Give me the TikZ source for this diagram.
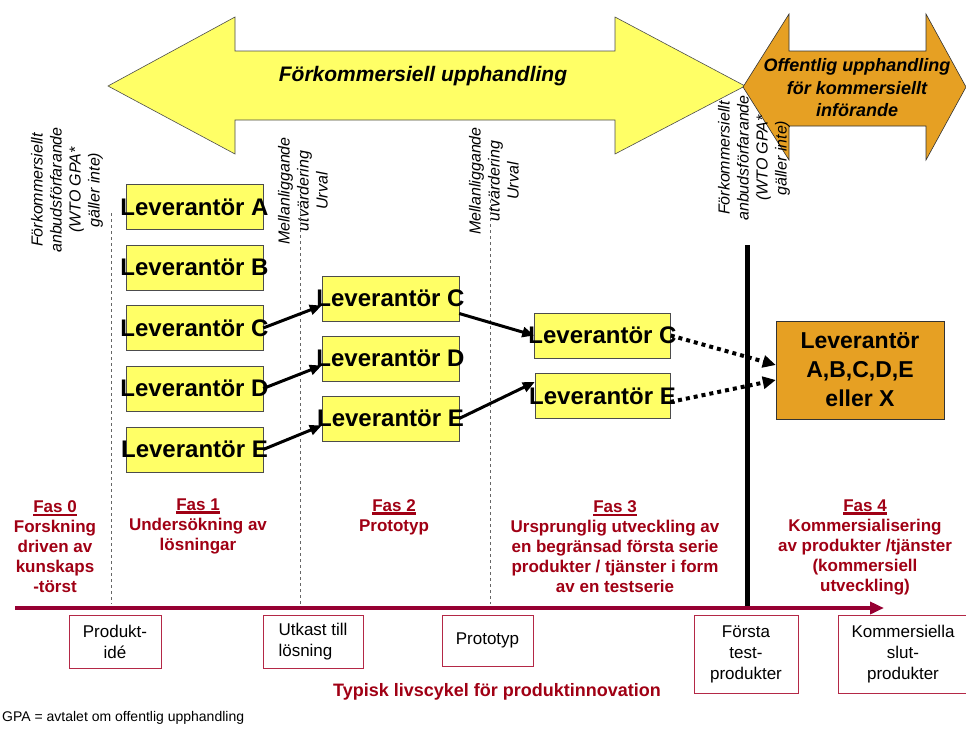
\documentclass[tikz,border=0pt]{standalone}
\usepackage{fontspec}
\setmainfont{Liberation Sans}
\usetikzlibrary{arrows.meta,positioning,calc}

\definecolor{levyellow}{RGB}{255,255,102}
\definecolor{offorange}{RGB}{230,160,35}
\definecolor{fasred}{RGB}{160,0,20}
\definecolor{tlred}{RGB}{150,0,50}
\definecolor{msred}{RGB}{180,40,70}

\newcommand{\fashead}[1]{\setbox0\hbox{#1}\rlap{\rule[-3.5pt]{\wd0}{2.5pt}}\box0}

\begin{document}
\begin{tikzpicture}[
    x=1pt, y=-1pt,
    supplier/.style={draw=black!70, fill=levyellow, minimum width=137pt, minimum height=45pt, inner xsep=-6pt, font=\fontsize{24}{29}\selectfont\bfseries},
    bigsupplier/.style={draw=black!80, fill=offorange, minimum width=168pt, minimum height=98pt, align=center, font=\fontsize{23}{29}\selectfont\bfseries},
    arrow/.style={-{Triangle[length=12pt,width=10pt]}, line width=3pt},
    dotarrow/.style={-{Triangle[length=13pt,width=12pt]}, line width=4pt, dash pattern=on 4pt off 4pt},
    vlabel/.style={rotate=90, align=center, font=\fontsize{16}{19}\selectfont\itshape},
    phase/.style={align=center, text=fasred, font=\fontsize{17}{20}\selectfont\bfseries},
    milestone/.style={draw=msred, line width=0.8pt, fill=white, align=center, font=\fontsize{17}{21}\selectfont},
    sepline/.style={draw=black!60, dashed, line width=0.6pt}
]
    \useasboundingbox (0,0) rectangle (966,728);

    % Big arrows on top
    \draw[draw=black!70, fill=levyellow, line width=0.6pt]
        (108,86) -- (235,17) -- (235,51) -- (615,51) -- (615,17) -- (745,86)
        -- (615,154) -- (615,120) -- (235,120) -- (235,154) -- cycle;
    \node[font=\fontsize{21}{24}\selectfont\bfseries\itshape] (pcp) at (423,76) {Förkommersiell upphandling};

    \draw[draw=black!80, fill=offorange, line width=0.6pt]
        (743,87) -- (789,14) -- (789,51) -- (926,51) -- (926,14) -- (966,87)
        -- (926,160) -- (926,126) -- (789,126) -- (789,160) -- cycle;
    \node[align=center, font=\fontsize{18}{22.5}\selectfont\bfseries\itshape] (ppi) at (857,88) {Offentlig upphandling\\för kommersiellt\\införande};

    % Vertical labels
    \node[vlabel] (proc1) at (67,190) {Förkommersiellt\\anbudsförfarande\\(WTO GPA*\\gäller inte)};
    \node[vlabel] (eval1) at (303,191) {Mellanliggande\\utvärdering\\Urval};
    \node[vlabel] (eval2) at (494,181) {Mellanliggande\\utvärdering\\Urval};
    \node[vlabel] (proc2) at (754,158) {Förkommersiellt\\anbudsförfarande\\(WTO GPA*\\gäller inte)};

    % Separators
    \draw[sepline] (111,213) -- (111,604);
    \draw[sepline] (300,205) -- (300,604);
    \draw[sepline] (490,200) -- (490,604);
    \draw[line width=5pt] (747,245) -- (747,607);

    % Timeline
    \coordinate (tlstart) at (15,608);
    \coordinate (tlend) at (884,608);
    \draw[line width=4.5pt, tlred, -{Triangle[length=14pt,width=12pt]}] (tlstart) -- (tlend);

    % Suppliers, phase 1
    \node[supplier] (c1a) at (194.5,207) {Leverantör A};
    \node[supplier] (c1b) at (194.5,267.5) {Leverantör B};
    \node[supplier] (c1c) at (194.5,328) {Leverantör C};
    \node[supplier] (c1d) at (194.5,388.5) {Leverantör D};
    \node[supplier] (c1e) at (194.5,449.5) {Leverantör E};

    % Suppliers, phase 2
    \node[supplier] (c2c) at (390.5,298.5) {Leverantör C};
    \node[supplier] (c2d) at (390.5,358.5) {Leverantör D};
    \node[supplier] (c2e) at (390.5,418.5) {Leverantör E};

    % Suppliers, phase 3
    \node[supplier, minimum width=135pt] (c3c) at (602.5,335.5) {Leverantör C};
    \node[supplier, minimum width=135pt] (c3e) at (602.5,396) {Leverantör E};

    % Phase 4
    \node[bigsupplier] (final) at (860,370) {Leverantör\\A,B,C,D,E\\eller X};

    % Arrows
    \draw[arrow] (c1c.east) -- ([yshift=-7pt]c2c.west);
    \draw[arrow] (c1d.east) -- ([yshift=-7pt]c2d.west);
    \draw[arrow] (c1e.east) -- ([yshift=-7pt]c2e.west);
    \draw[arrow] ([yshift=-15pt]c2c.east) -- (c3c.west);
    \draw[arrow] (c2e.east) -- ([yshift=14pt]c3e.west);
    \draw[dotarrow] (c3c.east) -- ([yshift=5pt]final.west);
    \draw[dotarrow] ([yshift=-6pt]c3e.east) -- ([yshift=-10pt]final.west);

    % Phases
    \node[phase] (fas0) at (55,547) {\fashead{Fas 0}\\Forskning\\driven av\\kunskaps\\-törst};
    \node[phase] (fas1) at (198,526) {\fashead{Fas 1}\\Undersökning av\\lösningar};
    \node[phase] (fas2) at (394,517) {\fashead{Fas 2}\\Prototyp};
    \node[phase] (fas3) at (615,547) {\fashead{Fas 3}\\Ursprunglig utveckling av\\en begränsad första serie\\produkter / tjänster i form\\av en testserie};
    \node[phase] (fas4) at (865,547) {\fashead{Fas 4}\\Kommersialisering\\av produkter /tjänster\\(kommersiell\\utveckling)};

    % Milestones
    \node[milestone, minimum width=92pt, minimum height=53pt] (idea) at (115,641.5) {Produkt-\\idé};
    \node[milestone, minimum width=100pt, minimum height=53pt, align=left] (draft) at (313,641.5) {Utkast till\\lösning};
    \node[milestone, minimum width=91pt, minimum height=51pt] (proto) at (487.5,640.5) {Prototyp};
    \node[milestone, minimum width=104pt, minimum height=78pt] (first) at (746,654) {Första\\test-\\produkter};
    \node[milestone, minimum width=130pt, minimum height=78pt] (commercial) at (903,654) {Kommersiella\\slut-\\produkter};

    % Captions
    \node[font=\fontsize{18}{20}\selectfont\bfseries, text=fasred] (lifecycle) at (497,692) {Typisk livscykel för produktinnovation};
    \node[anchor=west, inner sep=0pt, font=\fontsize{14}{16}\selectfont] (gpanote) at (2,718) {GPA = avtalet om offentlig upphandling};
\end{tikzpicture}
\end{document}
